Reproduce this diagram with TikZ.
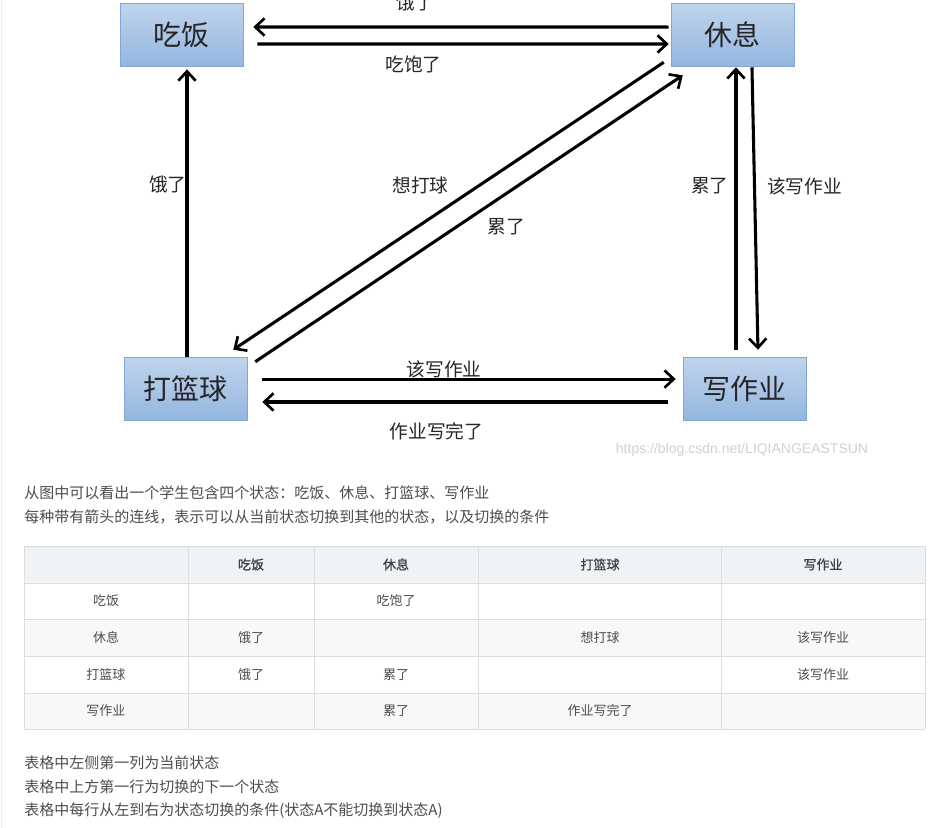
\documentclass[tikz,border=0pt]{standalone}
\usepackage{fontspec}
\setmainfont{Noto Sans CJK SC}
\newfontfamily\headfont[FakeBold=1]{Noto Sans CJK SC}
\newfontfamily\urlfont{Liberation Sans}
\usetikzlibrary{arrows.meta}

\definecolor{boxtop}{RGB}{192,212,236}
\definecolor{boxbot}{RGB}{148,182,224}
\definecolor{boxline}{RGB}{130,167,212}
\definecolor{txtgray}{RGB}{77,77,77}
\definecolor{gridline}{RGB}{221,221,221}
\definecolor{headfill}{RGB}{239,243,245}
\definecolor{rowfill}{RGB}{248,248,248}

\tikzset{
  state/.style={draw=boxline, top color=boxtop, bottom color=boxbot,
    minimum width=92.25pt, minimum height=47.25pt, inner sep=0pt,
    font=\fontsize{21pt}{21pt}\selectfont, text=black!85},
  flow/.style={line width=2.3pt, -{Straight Barb[length=7pt,width=13pt,line width=2pt]}},
  lbl/.style={font=\fontsize{14pt}{14pt}\selectfont, text=black!85, inner sep=1pt},
  para/.style={anchor=west, inner sep=0pt, text=txtgray, font=\fontsize{11.25pt}{11.25pt}\selectfont},
  cell/.style={inner sep=0pt, text=txtgray, font=\fontsize{9.75pt}{9.75pt}\selectfont},
  headcell/.style={cell, text=black!75, font=\fontsize{9.75pt}{9.75pt}\headfont}
}

\begin{document}
\begin{tikzpicture}[x=0.75pt,y=0.75pt,yscale=-1,xscale=1]
\useasboundingbox (0,0) rectangle (933,828);
\fill[white] (0,0) rectangle (933,828);
\draw[black!6] (1,0) -- (1,828);

%Shape: Rectangle
\node[state] (chifan) at (181.5,35) {吃饭};
\node[state] (xiuxi) at (732.5,34.5) {休息};
\node[state] (dalanqiu) at (185.5,388.5) {打篮球};
\node[state] (xiezuoye) at (744.5,388.5) {写作业};

%Straight Lines
\draw[flow] ([xshift=-1.5pt,yshift=-5.6pt]xiuxi.west) -- ([xshift=7.5pt,yshift=-6pt]chifan.east)
  node[lbl,pos=0.61,yshift=18.75pt] {饿了};
\draw[flow] ([xshift=10.5pt,yshift=6.75pt]chifan.east) -- ([xshift=-1.5pt,yshift=7.1pt]xiuxi.west)
  node[lbl,pos=0.38,yshift=-15pt] {吃饱了};
\draw[flow] ([xshift=1.1pt]dalanqiu.north) -- ([xshift=4.1pt,yshift=2pt]chifan.south)
  node[lbl,pos=0.6,xshift=-14.25pt] {饿了};
\draw[flow] ([xshift=-5.25pt,yshift=-3pt]xiuxi.south west) -- ([xshift=-10.5pt,yshift=-5.25pt]dalanqiu.north east)
  node[lbl,pos=0.43,xshift=-43.5pt] {想打球};
\draw[flow] ([xshift=6pt,yshift=3.75pt]dalanqiu.north east) -- ([xshift=9pt,yshift=6.75pt]xiuxi.south west)
  node[lbl,pos=0.47,xshift=37.5pt] {累了};
\draw[flow] ([xshift=-6.4pt,yshift=-5.25pt]xiezuoye.north) -- ([xshift=2.6pt,yshift=0.75pt]xiuxi.south)
  node[lbl,pos=0.58,xshift=-19.5pt] {累了};
\draw[flow] ([xshift=14.6pt,yshift=0.75pt]xiuxi.south) -- ([xshift=10.1pt,yshift=-5.25pt]xiezuoye.north)
  node[lbl,pos=0.42,xshift=37.5pt] {该写作业};
\draw[flow] ([xshift=11.25pt,yshift=-7.1pt]dalanqiu.east) -- ([xshift=-5.25pt,yshift=-7.1pt]xiezuoye.west)
  node[lbl,pos=0.44,yshift=7.5pt] {该写作业};
\draw[flow] ([xshift=-11.25pt,yshift=10.1pt]xiezuoye.west) -- ([xshift=11.25pt,yshift=10.1pt]dalanqiu.east)
  node[lbl,pos=0.57,yshift=-21.75pt] {作业写完了};

\node[text=black!18, inner sep=0pt, font=\fontsize{10.5pt}{10.5pt}\urlfont] (mark) at (742,450) {https://blog.csdn.net/LIQIANGEASTSUN};

\node[para] (line1) at (24,493) {从图中可以看出一个学生包含四个状态：吃饭、休息、打篮球、写作业};
\node[para] (line2) at (24,517) {每种带有箭头的连线，表示可以从当前状态切换到其他的状态，以及切换的条件};

%Table
\fill[headfill] (24,546) rectangle (925,583);
\fill[rowfill] (24,619) rectangle (925,656);
\fill[rowfill] (24,693) rectangle (925,729);
\foreach \x in {24,188,314,478,721,925} \draw[gridline] (\x,546) -- (\x,729);
\foreach \y in {546,583,619,656,693,729} \draw[gridline] (24,\y) -- (925,\y);

\foreach \x/\t in {251/吃饭,396/休息,600/打篮球,823/写作业}
  \node[headcell] at (\x,564.5) {\t};
\foreach \y/\t in {601/吃饭,637.5/休息,674.5/打篮球,711/写作业}
  \node[cell] at (106,\y) {\t};
\foreach \x/\y/\t in {396/601/吃饱了, 251/637.5/饿了, 600/637.5/想打球, 823/637.5/该写作业,
  251/674.5/饿了, 396/674.5/累了, 823/674.5/该写作业, 396/711/累了, 600/711/作业写完了}
  \node[cell] at (\x,\y) {\t};

\node[para] (line3) at (24,763) {表格中左侧第一列为当前状态};
\node[para] (line4) at (24,787) {表格中上方第一行为切换的下一个状态};
\node[para] (line5) at (24,811) {表格中每行从左到右为状态切换的条件(状态A不能切换到状态A)};

\end{tikzpicture}
\end{document}
